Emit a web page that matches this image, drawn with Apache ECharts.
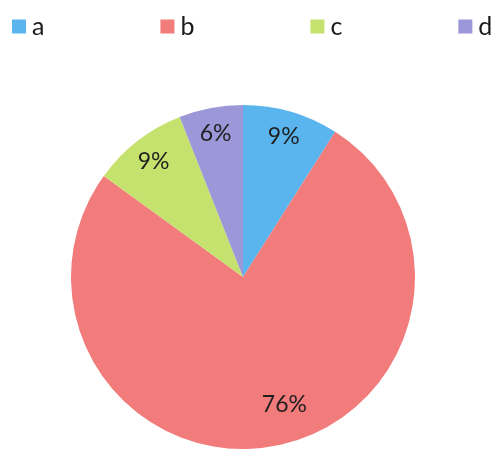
<!DOCTYPE html>
<html>
<head>
<meta charset="utf-8">
<style>
  html, body { margin: 0; padding: 0; background: #fff; }
  #chart { width: 495px; height: 449px; }
</style>
<script src="https://cdn.jsdelivr.net/npm/echarts@6/dist/echarts.min.js"></script>
</head>
<body>
<div id="chart"></div>
<script>
(function() {
  var names = ['a', 'b', 'c', 'd'];
  var values = [9, 76, 9, 6];
  var colors = ['#5ab4ee', '#f27b7b', '#c6e26e', '#9b97d8'];
  var font = 'Lato, "Open Sans", sans-serif';

  var chart = echarts.init(document.getElementById('chart'), null, { renderer: 'canvas' });

  var data = names.map(function(n, i) {
    return { name: n, value: values[i], itemStyle: { color: colors[i] } };
  });
  // transparent ring only used to place labels near the rim
  var labelData = names.map(function(n, i) {
    var item = { name: n, value: values[i] };
    if (n === 'b') item.label = { offset: [14, -16] };
    return item;
  });

  chart.setOption({
    animation: false,
    legend: {
      data: names,
      left: 12,
      top: 14,
      width: 700,
      padding: 0,
      icon: 'rect',
      itemWidth: 14,
      itemHeight: 14,
      itemGap: 116,
      textStyle: { fontFamily: font, fontSize: 25, color: '#1a1a1a', padding: [0, 0, 0, 1] }
    },
    series: [{
      type: 'pie',
      center: [243, 277],
      radius: [0, 172],
      startAngle: 90,
      clockwise: true,
      label: { show: false },
      labelLine: { show: false },
      data: data
    }, {
      type: 'pie',
      silent: true,
      center: [243, 277],
      radius: [114, 172],
      startAngle: 90,
      clockwise: true,
      itemStyle: { color: 'rgba(0,0,0,0)' },
      label: {
        show: true,
        position: 'inside',
        formatter: '{d}%',
        fontFamily: font,
        fontSize: 23,
        color: '#1f1f1f'
      },
      labelLine: { show: false },
      data: labelData
    }]
  });
})();
</script>
</body>
</html>
